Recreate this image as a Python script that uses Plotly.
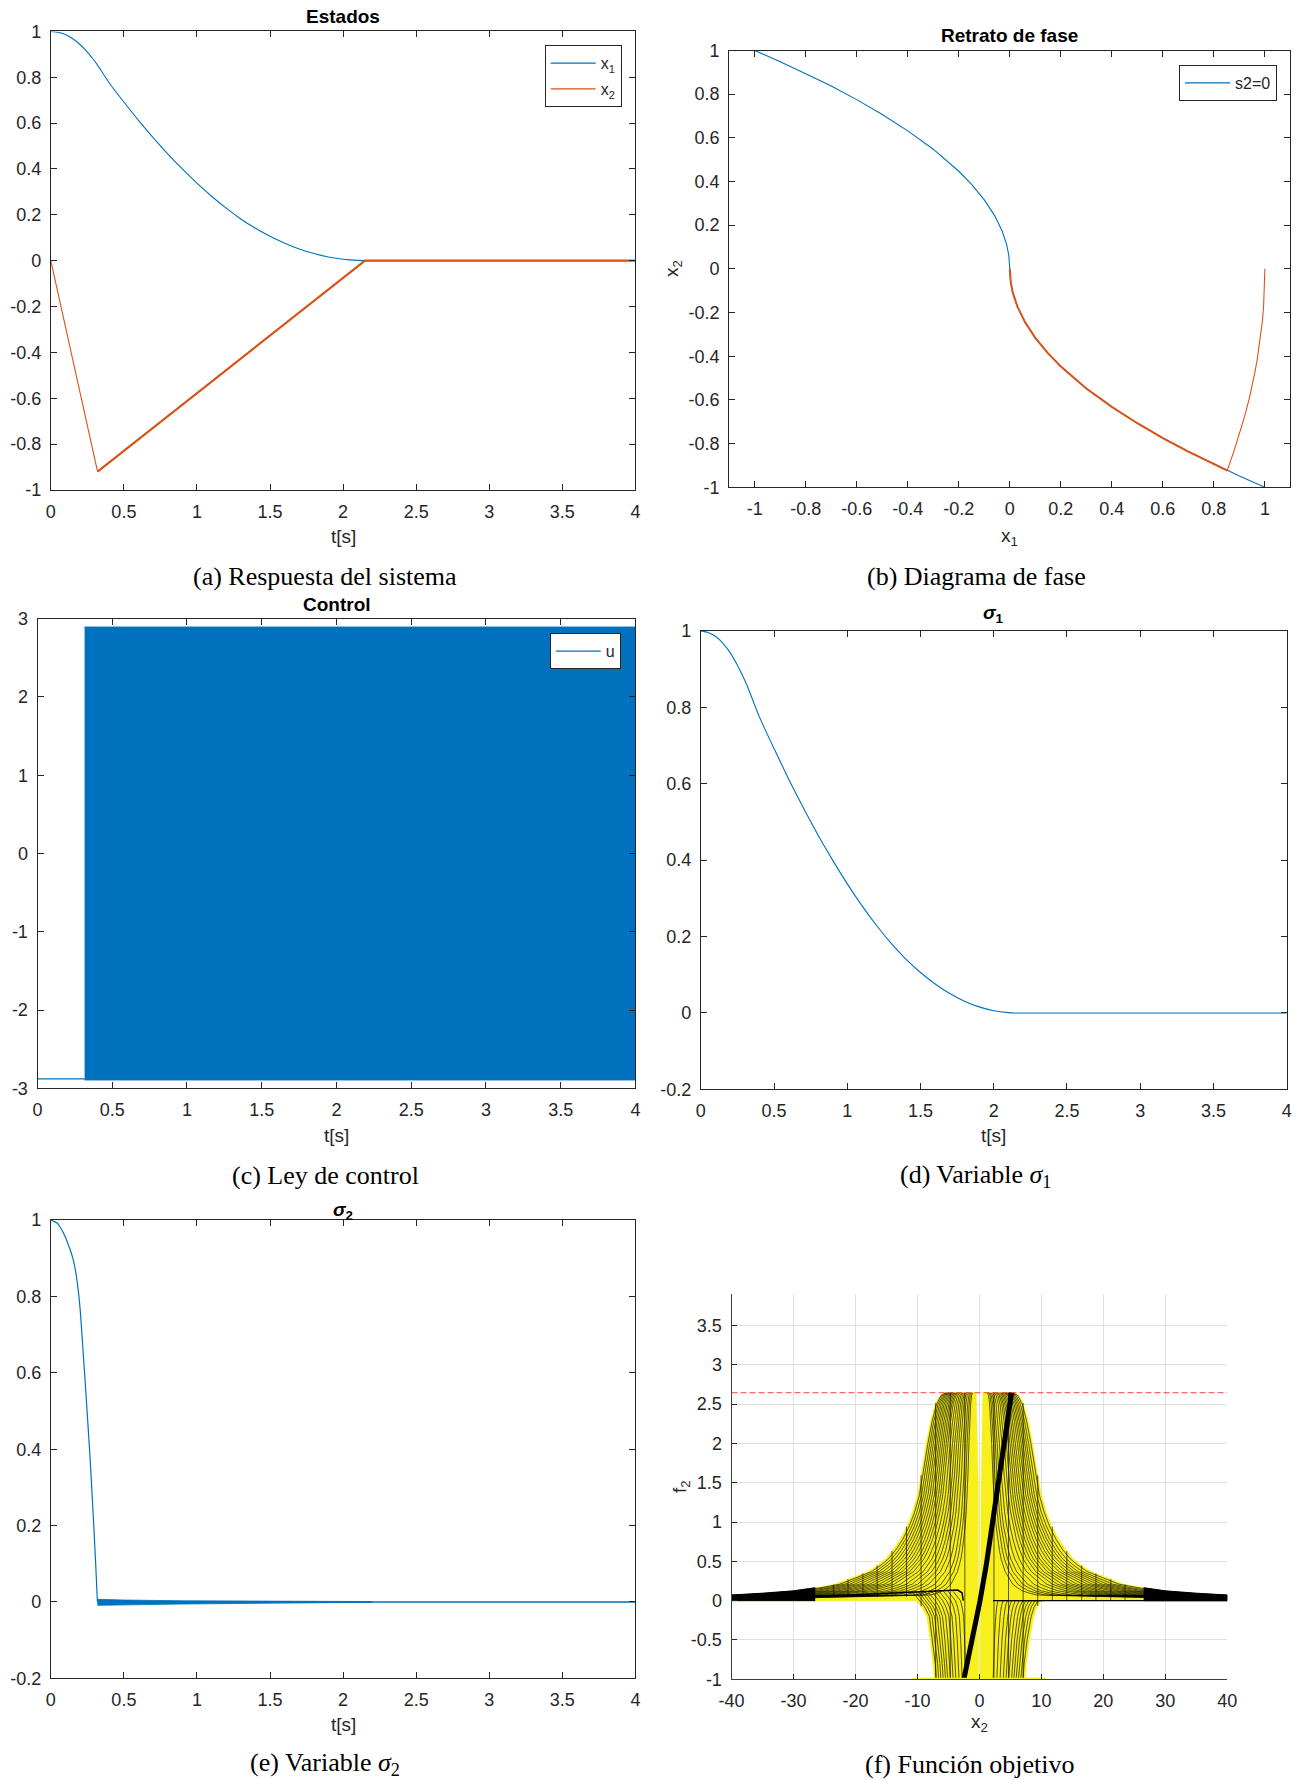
import numpy as np
import plotly.graph_objects as go

W, H = 1299, 1780
SANS = "Liberation Sans, Arial, sans-serif"
SERIF = "Liberation Serif, Times New Roman, serif"
AXC = "#262626"
BLUE = "#0072BD"
RED = "#D95319"
YEL = "#F7F01C"

# ---------------- (a) Estados / (d) sigma_1 ----------------
t_x1 = [0, 0.05, 0.1, 0.15, 0.2, 0.25, 0.3, 0.32, 0.4, 0.5, 0.6, 0.7, 0.8, 0.9, 1.0,
        1.1, 1.2, 1.3, 1.4, 1.5, 1.6, 1.7, 1.8, 1.9, 2.0, 2.1, 2.15]
x1_vals = [1.0, 0.996, 0.986, 0.968, 0.943, 0.910, 0.871, 0.853, 0.775, 0.692, 0.612,
           0.537, 0.466, 0.400, 0.338, 0.281, 0.229, 0.182, 0.141, 0.106, 0.076, 0.051,
           0.031, 0.016, 0.006, 0.001, 0.0]
t_flat = [2.15, 4.0]
flat_vals = [0.0, 0.0]
t_x2 = [0, 0.32, 2.15, 4.0]
x2_vals = [0.0, -0.92, 0.0, 0.0]
sigma1_vals = [1.0, 0.996, 0.986, 0.968, 0.943, 0.910, 0.871, 0.853, 0.775, 0.692, 0.612,
               0.537, 0.466, 0.400, 0.338, 0.281, 0.229, 0.182, 0.141, 0.106, 0.076, 0.051,
               0.031, 0.016, 0.006, 0.001, 0.0]

# ---------------- (b) Retrato de fase ----------------
s2_x1 = [-1.0, -0.9, -0.8, -0.7, -0.6, -0.5, -0.4, -0.3, -0.2, -0.15, -0.1, -0.06, -0.03,
         -0.012, -0.004, -0.001, 0.0, 0.001, 0.004, 0.012, 0.03, 0.06, 0.1, 0.15, 0.2, 0.3,
         0.4, 0.5, 0.6, 0.7, 0.8, 0.9, 1.0]
s2_x2 = [1.0, 0.949, 0.894, 0.837, 0.775, 0.707, 0.632, 0.548, 0.447, 0.387, 0.316, 0.245,
         0.173, 0.110, 0.063, 0.032, 0.0, -0.032, -0.063, -0.110, -0.173, -0.245, -0.316,
         -0.387, -0.447, -0.548, -0.632, -0.707, -0.775, -0.837, -0.894, -0.949, -1.0]
reach_x1 = [1.0, 0.999, 0.995, 0.99, 0.98, 0.97, 0.96, 0.94, 0.92, 0.9, 0.88, 0.853]
reach_x2 = [0.0, -0.076, -0.169, -0.240, -0.339, -0.415, -0.479, -0.587, -0.678, -0.758,
            -0.830, -0.922]
slide_x1 = [0.853, 0.8, 0.7, 0.6, 0.5, 0.4, 0.3, 0.2, 0.15, 0.1, 0.06, 0.03, 0.012, 0.004,
            0.001, 0.0]
slide_x2 = [-0.924, -0.894, -0.837, -0.775, -0.707, -0.632, -0.548, -0.447, -0.387, -0.316,
            -0.245, -0.173, -0.110, -0.063, -0.032, 0.0]

# ---------------- (c) Control ----------------
u_t_init = [0.0, 0.315]
u_init = [-2.88, -2.88]
u_band_t = [0.315, 4.0]
u_band_hi = [2.893, 2.893]
u_band_lo = [-2.893, -2.893]

# ---------------- (e) sigma_2 ----------------
t_s2 = [0, 0.04, 0.07, 0.1, 0.13, 0.151, 0.17, 0.185, 0.2, 0.215, 0.231, 0.248, 0.265,
        0.28, 0.294, 0.307, 0.319]
s2_vals = [1.0, 0.993, 0.978, 0.955, 0.925, 0.90, 0.865, 0.825, 0.77, 0.69, 0.60, 0.50,
           0.40, 0.30, 0.20, 0.10, 0.0]
t_chat = [0.319, 0.5, 0.9, 1.3, 1.8, 2.2]
chat_hi = [0.007, 0.005, 0.003, 0.0025, 0.002, 0.001]
chat_lo = [-0.009, -0.007, -0.0055, -0.004, -0.003, -0.001]
t_s2_tail = [0.319, 4.0]
s2_tail = [0.0, 0.0]

# ---------------- (f) Funcion objetivo ----------------
f_top = 2.645
env_abs_x = [5.6, 6.4, 7.15, 7.9, 8.6, 9.4, 10.0, 10.8, 11.7, 12.8, 14.0, 15.2, 16.4, 18.0,
             20.0, 23.3, 26.5, 30.0, 35.0, 40.0]
env_y = [2.645, 2.61, 2.50, 2.28, 2.00, 1.60, 1.35, 1.13, 0.95, 0.78, 0.64, 0.53, 0.455,
         0.37, 0.31, 0.21, 0.165, 0.125, 0.095, 0.072]
low_left_abs_x = [7.3, 7.5, 7.95, 8.5, 9.3, 10.2]
low_right_abs_x = [7.4, 7.6, 8.1, 8.8, 9.3, 10.0]
low_y = [-1.0, -0.8, -0.5, -0.2, -0.08, 0.0]
gap_y = [2.645, 1.41, -1.0]
gap_left = [-0.53, -0.16, -0.12]
gap_right = [0.55, 0.27, 0.10]
col_abs_x = [2.35, 4.7, 7.06, 9.41, 11.76, 14.1, 16.5, 18.8, 21.2, 23.5]
cross_right = [11.3, 10.8, 10.35, 9.95, 9.55, 9.15, 8.75, 8.35, 7.9, 7.5, 7.1, 6.7, 6.3,
               5.9, 5.45, 4.95, 4.4, 3.9, 3.5, 3.1, 2.7]
cross_left = [-11.3, -10.9, -10.5, -10.1, -9.7, -9.3, -8.9, -8.5, -8.1, -7.7, -7.3, -6.9,
              -6.4, -5.9, -5.45, -5.0, -4.55, -4.1, -3.6, -3.1, -2.7, -2.3]
hook_scale = [0.95, 0.9, 0.85, 0.8, 0.75, 0.7, 0.64, 0.58, 0.52, 0.45, 0.38, 0.3]
ridge_x = [-40, -30, -20, -12, -6, -3.5, -2.8, -2.6]
ridge_y = [0.035, 0.05, 0.075, 0.105, 0.13, 0.135, 0.10, 0.0]
diag_x = [-2.5, -1.2, 0.1, 1.1, 2.0, 2.9, 3.7, 4.5, 5.2]
diag_y = [-1.0, -0.52, 0.0, 0.45, 0.92, 1.4, 1.87, 2.3, 2.645]
bottom_x = [-10.9, 10.8]
bottom_y = [-1.0, -1.0]
ref_x = [-40, 40]
ref_y = [2.645, 2.645]

fig = go.Figure()


def sc(x, y, ax, **kw):
    d = dict(x=x, y=y, mode="lines", xaxis="x" + ax, yaxis="y" + ax, hoverinfo="skip")
    d.update(kw)
    fig.add_trace(go.Scatter(**d))


# (a)
sc(t_x1, x1_vals, "", line=dict(color=BLUE, width=1.1, shape="spline", smoothing=0.6),
   name="x<sub>1</sub>", legend="legend", legendgroup="x1")
sc(t_flat, flat_vals, "", line=dict(color=BLUE, width=1.1), showlegend=False, legendgroup="x1")
sc(t_x2[:2], x2_vals[:2], "", line=dict(color=RED, width=1.1), name="x<sub>2</sub>",
   legend="legend", legendgroup="x2")
sc(t_x2[1:], x2_vals[1:], "", line=dict(color=RED, width=2.2), showlegend=False, legendgroup="x2")

# (b)
sc(s2_x1, s2_x2, "2", line=dict(color=BLUE, width=1.1), name="s2=0", legend="legend2")
sc(reach_x1, reach_x2, "2", line=dict(color=RED, width=1.1), showlegend=False)
sc(slide_x1, slide_x2, "2", line=dict(color=RED, width=2.0), showlegend=False)

# (c)
sc(u_band_t + u_band_t[::-1], u_band_hi + u_band_lo[::-1], "3", fill="toself",
   fillcolor=BLUE, line=dict(color=BLUE, width=1), showlegend=False)
sc(u_t_init, u_init, "3", line=dict(color=BLUE, width=1.3), name="u", legend="legend3")

# (d)
sc(t_x1, sigma1_vals, "4", line=dict(color=BLUE, width=1.1, shape="spline", smoothing=0.6),
   showlegend=False)
sc(t_flat, flat_vals, "4", line=dict(color=BLUE, width=1.1), showlegend=False)

# (e)
sc(t_s2, s2_vals, "5", line=dict(color=BLUE, width=1.2, shape="spline", smoothing=0.6),
   showlegend=False)
sc(t_chat + t_chat[::-1], chat_hi + chat_lo[::-1], "5", fill="toself", fillcolor=BLUE,
   line=dict(color=BLUE, width=0.8), showlegend=False)
sc(t_s2_tail, s2_tail, "5", line=dict(color=BLUE, width=1.5), showlegend=False)

# (f) yellow surface silhouette (left and right lobes)
ex = np.array(env_abs_x)
ey = np.array(env_y)
lx = [-40.0] + list(-ex[::-1]) + [gap_left[0], gap_left[1], gap_left[2]] + \
     [-v for v in low_left_abs_x] + [-40.0]
ly = [0.0] + list(ey[::-1]) + [gap_y[0], gap_y[1], gap_y[2]] + low_y + [0.0]
rx = [40.0] + list(ex[::-1]) + [gap_right[0], gap_right[1], gap_right[2]] + \
     list(low_right_abs_x) + [40.0]
ry = ly[:]
for px_, py_ in ((lx, ly), (rx, ry)):
    sc(px_, py_, "6", fill="toself", fillcolor=YEL, line=dict(color=YEL, width=0.5),
       showlegend=False)

# dense black tails
band = ex >= 26.5
bx = list(ex[band]) + list(ex[band][::-1])
by = list(ey[band]) + [0.0] * int(band.sum())
sc(bx, by, "6", fill="toself", fillcolor="black", line=dict(color="black", width=1),
   showlegend=False)
sc([-v for v in bx], by, "6", fill="toself", fillcolor="black",
   line=dict(color="black", width=1), showlegend=False)

# mesh lines
mx, my = [], []
for s in (1, -1):
    low_abs = low_right_abs_x if s > 0 else low_left_abs_x
    base = 0.0 if s > 0 else 0.05
    for c in col_abs_x:
        top = float(np.interp(c, ex, ey, left=f_top))
        if c <= low_abs[0]:
            bot = -1.0
        elif c <= low_abs[-1]:
            bot = float(np.interp(c, low_abs, low_y))
        else:
            bot = base
        mx += [s * c, s * c, None]
        my += [bot, top, None]
for cset, s in ((cross_right, 1), (cross_left, -1)):
    for c in cset:
        k = abs(c) / 11.7
        mx += list(s * ex * k) + [s * 40.0, None]
        my += list(ey) + [float(ey[-1] * k), None]
for s, low_abs, base in ((1, low_right_abs_x, 0.0), (-1, low_left_abs_x, 0.12)):
    for m in hook_scale:
        xs = [s * (low_abs[-1] * m + 1.2)] + [s * v * m for v in low_abs[::-1]]
        ys = [base] + low_y[::-1]
        mx += xs + [None]
        my += ys + [None]
sc(mx, my, "6", line=dict(color="rgba(0,0,0,0.8)", width=0.8), showlegend=False)
sc(ridge_x, ridge_y, "6", line=dict(color="black", width=1.5), showlegend=False)
sc([2.2, 40], [0.0, 0.0], "6", line=dict(color="black", width=1.2), showlegend=False)
sc(diag_x, diag_y, "6", line=dict(color="black", width=5), showlegend=False)
sc(bottom_x, bottom_y, "6", line=dict(color=YEL, width=3), showlegend=False)
sc(ref_x, ref_y, "6", line=dict(color="rgba(255,40,40,0.7)", width=1.2, dash="6px,3px"),
   showlegend=False)


# ---------------- layout ----------------
def dx(a, b):
    return [a / W, b / W]


def dy(top, bot):
    return [1 - bot / H, 1 - top / H]


def fmt(v):
    v = float(v)
    if abs(v) < 1e-9:
        return "0"
    return "%g" % v


def axis(domain, rng, ticks, anchor, **kw):
    d = dict(domain=domain, range=rng, tickvals=ticks, ticktext=[fmt(v) for v in ticks],
             anchor=anchor, showline=True, linecolor=AXC, linewidth=1, mirror="ticks",
             ticks="inside", ticklen=6, tickwidth=1, tickcolor=AXC, showgrid=False,
             zeroline=False, tickfont=dict(family=SANS, size=18, color=AXC),
             fixedrange=True, ticklabelstandoff=5, automargin=False)
    d.update(kw)
    return d


t_ticks = [0, 0.5, 1, 1.5, 2, 2.5, 3, 3.5, 4]
pm1 = [round(float(v), 1) + 0.0 for v in np.arange(-1, 1.01, 0.2)]
sig_ticks = [round(float(v), 1) + 0.0 for v in np.arange(-0.2, 1.01, 0.2)]
f_yticks = [round(float(v), 1) + 0.0 for v in np.arange(-1, 3.51, 0.5)]

layout = dict(
    template="none",
    width=W, height=H, margin=dict(l=0, r=0, t=0, b=0, pad=0, autoexpand=False),
    paper_bgcolor="white", plot_bgcolor="white", showlegend=True,
    font=dict(family=SANS, color=AXC),
    xaxis=axis(dx(50.8, 635.4), [0, 4], t_ticks, "y"),
    yaxis=axis(dy(31.4, 489.9), [-1, 1], pm1, "x"),
    xaxis2=axis(dx(729.2, 1290.4), [-1.1, 1.1], pm1, "y2"),
    yaxis2=axis(dy(50.5, 487.2), [-1, 1], pm1, "x2"),
    xaxis3=axis(dx(37.5, 635.4), [0, 4], t_ticks, "y3"),
    yaxis3=axis(dy(618.7, 1088.3), [-3, 3], [-3, -2, -1, 0, 1, 2, 3], "x3"),
    xaxis4=axis(dx(700.8, 1286.7), [0, 4], t_ticks, "y4"),
    yaxis4=axis(dy(630.9, 1089.4), [-0.2, 1], sig_ticks, "x4"),
    xaxis5=axis(dx(50.8, 635.4), [0, 4], t_ticks, "y5"),
    yaxis5=axis(dy(1220.1, 1678.3), [-0.2, 1], sig_ticks, "x5"),
    xaxis6=axis(dx(731.5, 1227.3), [-40, 40], list(range(-40, 41, 10)), "y6",
                mirror=False, showgrid=True, gridcolor="#E0E0E0", gridwidth=1,
                ticklen=5, linecolor="#404040"),
    yaxis6=axis(dy(1294, 1679.3), [-1, 3.9], f_yticks,
                "x6", mirror=False, showgrid=True, gridcolor="#E0E0E0", gridwidth=1,
                ticklen=5, linecolor="#404040"),
)

leg_common = dict(bordercolor=AXC, borderwidth=1, bgcolor="white", xanchor="right",
                  yanchor="top", font=dict(family=SANS, size=16, color=AXC),
                  tracegroupgap=2, itemwidth=45)
layout["legend"] = dict(leg_common, x=621.7 / W, y=1 - 45.2 / H)
layout["legend2"] = dict(leg_common, x=1277 / W, y=1 - 65 / H)
layout["legend3"] = dict(leg_common, x=620.8 / W, y=1 - 633.2 / H)

anns = []


def ann(text, x, y, size, family=SANS, angle=0, color=AXC):
    anns.append(dict(text=text, x=x / W, y=1 - y / H, xref="paper", yref="paper",
                     showarrow=False, xanchor="center", yanchor="middle", textangle=angle,
                     font=dict(family=family, size=size, color=color)))


# titles
ann("<b>Estados</b>", 343, 16, 19, color="black")
ann("<b>Retrato de fase</b>", 1009, 36, 19, color="black")
ann("<b>Control</b>", 336.5, 604.5, 19, color="black")
ann("<b><i>σ</i><sub>1</sub></b>", 993.5, 614, 19, color="black")
ann("<b><i>σ</i><sub>2</sub></b>", 343, 1211, 19, color="black")
# axis labels
ann("t[s]", 343, 536, 19)
ann("x<sub>1</sub>", 1009, 537, 19)
ann("x<sub>2</sub>", 673, 269, 19, angle=-90)
ann("t[s]", 336.5, 1135, 19)
ann("t[s]", 993.5, 1135, 19)
ann("t[s]", 343, 1724, 19)
ann("x<sub>2</sub>", 980, 1723, 19)
ann("f<sub>2</sub>", 681, 1487, 19, angle=-90)
# captions
ann("(a) Respuesta del sistema", 325, 576, 26, family=SERIF, color="black")
ann("(b) Diagrama de fase", 976, 576, 26, family=SERIF, color="black")
ann("(c) Ley de control", 325, 1175.5, 26, family=SERIF, color="black")
ann("(d) Variable <i>σ</i><sub>1</sub>", 975, 1175.5, 26, family=SERIF, color="black")
ann("(e) Variable <i>σ</i><sub>2</sub>", 325, 1764, 26, family=SERIF, color="black")
ann("(f) Función objetivo", 969, 1764, 26, family=SERIF, color="black")
layout["annotations"] = anns

fig.update_layout(**layout)
fig.write_html(
    "out.html",
    config={"displayModeBar": False, "staticPlot": True},
    post_script="document.body.style.margin='0px';document.body.style.overflow='hidden';",
)
